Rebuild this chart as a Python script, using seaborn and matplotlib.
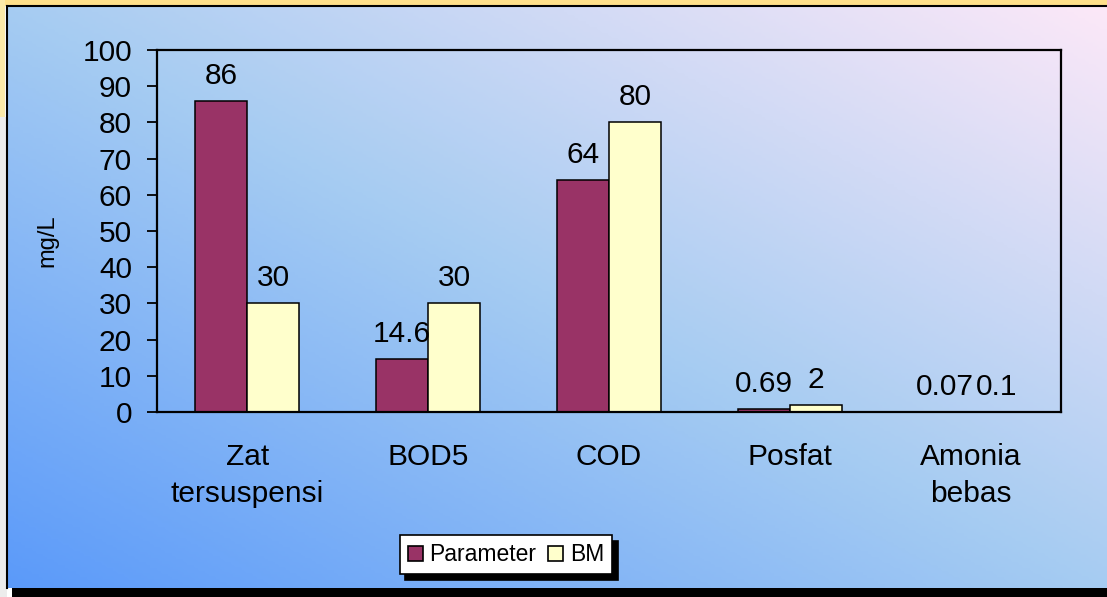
import numpy as np
import pandas as pd
import matplotlib
matplotlib.use("Agg")
import matplotlib.pyplot as plt
from matplotlib.colors import LinearSegmentedColormap
from matplotlib.patches import Rectangle
import seaborn as sns

categories = ["Zat\ntersuspensi", "BOD5", "COD", "Posfat", "Amonia\nbebas"]
parameter = [86, 14.6, 64, 0.69, 0.07]
bm = [30, 30, 80, 2, 0.1]
series = ["Parameter", "BM"]
colors = ["#993366", "#FFFFCC"]
y_ticks = list(range(0, 101, 10))

df = pd.DataFrame({
    "kategori": categories * 2,
    "nilai": parameter + bm,
    "seri": [series[0]] * len(categories) + [series[1]] * len(categories),
})

plt.rcParams["font.family"] = ["Liberation Sans", "DejaVu Sans"]

W, H = 1107, 597
fig = plt.figure(figsize=(W / 100, H / 100), dpi=100)

# background: slide frame + gradient panel
bg = fig.add_axes([0, 0, 1, 1])
bg.set_xlim(0, W)
bg.set_ylim(H, 0)
bg.axis("off")
bg.add_patch(Rectangle((0, 0), W, 6, facecolor="#ffe08a", edgecolor="none"))
bg.add_patch(Rectangle((0, 0), 5, 117, facecolor="#fbe9a8", edgecolor="none"))
bg.add_patch(Rectangle((0, 117), 7, H - 117, facecolor="#ececec", edgecolor="none"))
gx, gy = np.meshgrid(np.linspace(0, 1, 300), np.linspace(0, 1, 200))
t = (gx + (1 - gy)) / 2
cmap = LinearSegmentedColormap.from_list(
    "panel", [(0, "#5b9afa"), (0.5, "#a6ccf2"), (1, "#fce8f8")])
bg.imshow(t, cmap=cmap, extent=(7, W, 588, 6), aspect="auto", zorder=1)
bg.add_patch(Rectangle((12, 588), W - 12, 9, facecolor="black", edgecolor="none", zorder=2))
bg.plot([7, 7], [588, 6], color="black", lw=1.5, zorder=3)
bg.plot([7, W], [6, 6], color="black", lw=1.5, zorder=3)

ax = fig.add_axes([0.1418, 0.3099, 0.8166, 0.6064])
ax.set_facecolor("none")
sns.barplot(data=df, x="kategori", y="nilai", hue="seri", order=categories,
            hue_order=series, palette=colors, saturation=1, width=0.575,
            edgecolor="black", linewidth=1.1, ax=ax, legend=False)

for cont in ax.containers:
    ax.bar_label(cont, fmt="{:g}", padding=8, fontsize=21.5)

ax.set_ylim(0, 100)
ax.set_yticks(y_ticks)
ax.tick_params(axis="y", labelsize=21.5, length=7, width=1.3, pad=11, direction="out")
ax.tick_params(axis="x", labelsize=21.5, length=0, pad=22)
for lab in ax.get_xticklabels():
    lab.set_linespacing(1.45)
ax.set_xlabel("")
ax.set_ylabel("mg/L", fontsize=17)
ax.yaxis.set_label_coords(-0.1095, 0.472)
for sp in ax.spines.values():
    sp.set_color("black")
    sp.set_linewidth(1.6)

handles = [Rectangle((0, 0), 1, 1, facecolor=c, edgecolor="black", linewidth=1.2) for c in colors]
leg = fig.legend(handles, series, loc="center", bbox_to_anchor=(0.457, 0.0704),
                 ncol=2, fontsize=16.5, frameon=True, fancybox=False,
                 handlelength=0.65, handleheight=0.65, handletextpad=0.3,
                 columnspacing=0.5, borderpad=0.35, borderaxespad=0,
                 shadow={"facecolor": "black", "edgecolor": "black", "alpha": 1, "ox": 4, "oy": -4})
leg.get_frame().set_edgecolor("black")
leg.get_frame().set_linewidth(1.2)
leg.get_frame().set_facecolor("white")
leg.get_frame().set_alpha(1)

fig.savefig("out.png", dpi=100)
